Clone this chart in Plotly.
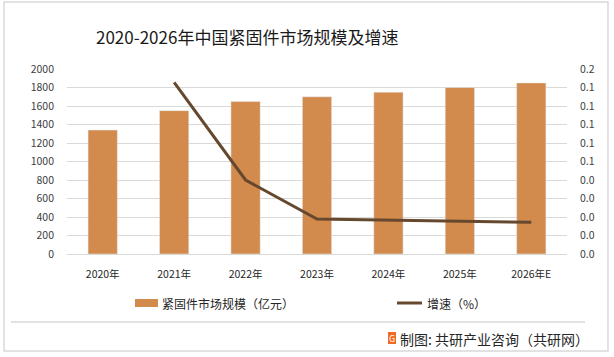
import plotly.graph_objects as go

categories = ["2020年", "2021年", "2022年", "2023年", "2024年", "2025年", "2026年E"]
market_size = [1340, 1550, 1650, 1700, 1750, 1800, 1850]
growth = [None, 0.1485, 0.064, 0.0303, 0.0292, 0.0284, 0.0274]
left_ticks = [0, 200, 400, 600, 800, 1000, 1200, 1400, 1600, 1800, 2000]
right_tickvals = [0, 0.016, 0.032, 0.048, 0.064, 0.08, 0.096, 0.112, 0.128, 0.144, 0.16]
right_ticktext = ["0.0", "0.0", "0.0", "0.0", "0.0", "0.1", "0.1", "0.1", "0.1", "0.1", "0.2"]
bar_name = "紧固件市场规模（亿元）"
line_name = "增速（%）"
title_text = "2020-2026年中国紧固件市场规模及增速"
source_text = "制图: 共研产业咨询（共研网）"

W, H = 614, 357
ML, MR, MT, MB = 67, 47, 69, 103
PW, PH = W - ML - MR, H - MT - MB

def px(x):
    return (x - ML) / PW

def py(y):
    return (H - MB - y) / PH

FONT = "Noto Sans CJK SC"
BAR_C = "#D38B4D"
LINE_C = "#66482E"

fig = go.Figure()
fig.add_trace(go.Bar(x=categories, y=market_size, name=bar_name, marker_color=BAR_C,
                     width=0.41, showlegend=False))
fig.add_trace(go.Scatter(x=categories, y=growth, name=line_name, mode="lines",
                         line=dict(color=LINE_C, width=3), yaxis="y2", showlegend=False))

shapes = [
    # outer border
    dict(type="rect", xref="paper", yref="paper", x0=px(4), x1=px(608), y0=py(351), y1=py(2),
         line=dict(color="#D9D9D9", width=1.5), layer="below"),
    # separator
    dict(type="line", xref="paper", yref="paper", x0=px(11), x1=px(585), y0=py(322), y1=py(322),
         line=dict(color="#D9D9D9", width=1.5)),
    # legend swatches
    dict(type="rect", xref="paper", yref="paper", x0=px(135), x1=px(158), y0=py(307), y1=py(299),
         fillcolor=BAR_C, line=dict(width=0)),
    dict(type="line", xref="paper", yref="paper", x0=px(397), x1=px(422), y0=py(303), y1=py(303),
         line=dict(color=LINE_C, width=3)),
    # source icon
    dict(type="rect", xref="paper", yref="paper", x0=px(388), x1=px(396), y0=py(344), y1=py(332),
         fillcolor="#F26A21", line=dict(width=0)),
]

annotations = [
    dict(text=title_text, xref="paper", yref="paper", x=px(247), y=py(36), xanchor="center",
         yanchor="middle", showarrow=False, font=dict(family=FONT, size=17, color="#1A1A1A")),
    dict(text=bar_name, xref="paper", yref="paper", x=px(160), y=py(303), xanchor="left",
         yanchor="middle", showarrow=False, font=dict(family=FONT, size=12, color="#262626")),
    dict(text=line_name, xref="paper", yref="paper", x=px(425), y=py(303), xanchor="left",
         yanchor="middle", showarrow=False, font=dict(family=FONT, size=12, color="#262626")),
    dict(text="G", xref="paper", yref="paper", x=px(392), y=py(338), xanchor="center",
         yanchor="middle", showarrow=False, font=dict(family=FONT, size=9, color="white")),
    dict(text=source_text, xref="paper", yref="paper", x=px(398), y=py(339), xanchor="left",
         yanchor="middle", showarrow=False, font=dict(family=FONT, size=14, color="#262626")),
]

fig.update_layout(
    width=W, height=H,
    margin=dict(l=ML, r=MR, t=MT, b=MB, pad=0),
    paper_bgcolor="white", plot_bgcolor="white",
    font=dict(family=FONT, size=10.5, color="#404040"),
    showlegend=False,
    bargap=0.59,
    xaxis=dict(type="category", showgrid=False, showline=False, ticks="", ticklabelstandoff=12,
               tickfont=dict(size=10.5, color="#262626")),
    yaxis=dict(range=[0, 2000], tickvals=left_ticks, showgrid=True, gridcolor="#D9D9D9",
               gridwidth=1, zeroline=True, zerolinecolor="#D9D9D9", zerolinewidth=1,
               ticks="", ticklabelstandoff=12, tickfont=dict(size=10.5, color="#404040")),
    yaxis2=dict(range=[0, 0.16], tickvals=right_tickvals, ticktext=right_ticktext,
                overlaying="y", side="right", showgrid=False, zeroline=False, ticks="",
                ticklabelstandoff=12, tickfont=dict(size=10.5, color="#404040")),
    shapes=shapes,
    annotations=annotations,
)

fig.write_html(
    "out.html",
    config={"displayModeBar": False},
    post_script="document.body.style.margin='0';document.body.style.padding='0';"
                "document.documentElement.style.overflow='hidden';",
)
